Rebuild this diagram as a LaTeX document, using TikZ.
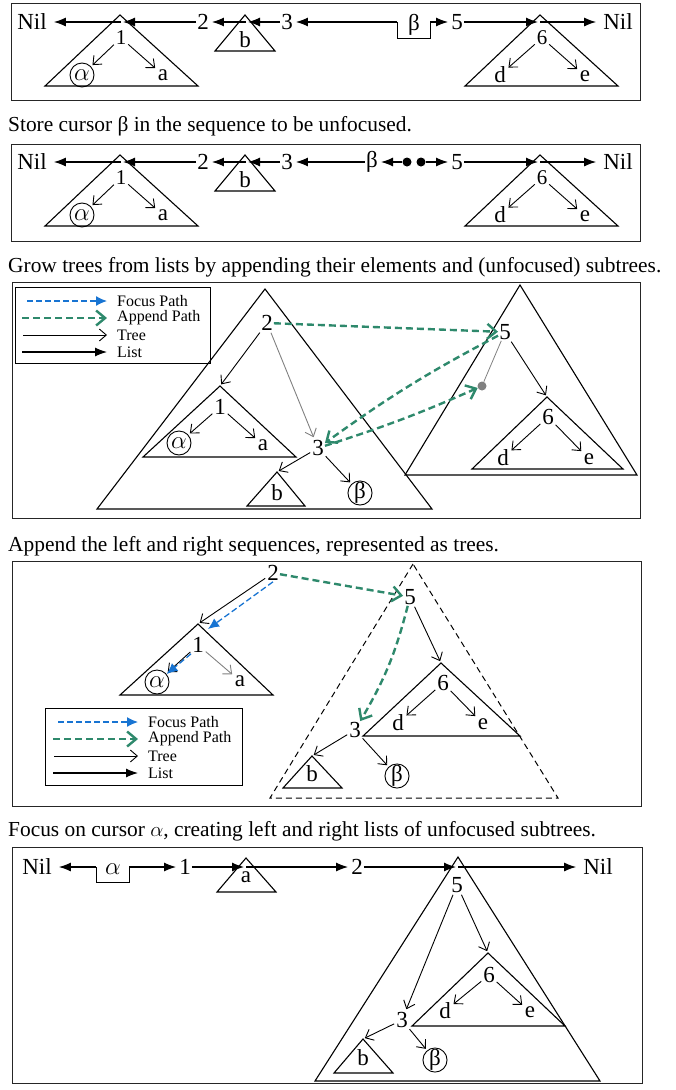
\documentclass[tikz,border=0pt]{standalone}
\usepackage{fontspec}
\setmainfont{Liberation Serif}
\usetikzlibrary{positioning,arrows.meta}
\definecolor{focusblue}{RGB}{24,116,210}
\definecolor{appendgreen}{RGB}{46,137,108}

\begin{document}
\begin{tikzpicture}[
			x=1pt, y=-1pt,
			every node/.style={
				inner sep=1pt,
				font=\fontsize{23}{23}\selectfont
			},
			small/.style={font=\fontsize{21}{21}\selectfont},
			nil/.style={inner sep=5pt},
			cnode/.style={draw, circle, inner sep=0pt, minimum size=24pt, line width=0.9pt},
			dot/.style={circle, fill, inner sep=0pt, minimum size=9pt},
			gdot/.style={circle, fill=gray, inner sep=0pt, minimum size=9pt},
			panel/.style={draw=black!85, line width=0.9pt},
			tri/.style={line width=1.1pt},
			list/.style={line width=1.1pt, -{Latex[length=12pt,width=9pt]}, shorten >=2pt},
			tree/.style={line width=0.9pt, -{Straight Barb[length=7pt,width=12pt]}, shorten >=2pt, shorten <=1pt},
			focus/.style={focusblue, line width=1.3pt, dash pattern=on 6pt off 3pt, -{Latex[length=11pt,width=10pt]}},
			append/.style={appendgreen, line width=2.4pt, dash pattern=on 7pt off 4pt, -{Straight Barb[length=9pt,width=15pt]}},
			legend/.style={anchor=west, inner xsep=10pt, inner ysep=1pt, font=\fontsize{16}{16}\selectfont},
			caption/.style={anchor=base west, inner sep=0pt, font=\fontsize{21.4}{22}\selectfont}
			]
			
			\useasboundingbox (0,0) rectangle (675,1090);
			
			%%%%%%%%%%%%%%%%%%%%%%%%%%%%%%%%%%%%%%%%%%%%%%%%%%%%%%%%%%%%
			% Panel 1: cursor beta in the list
			%%%%%%%%%%%%%%%%%%%%%%%%%%%%%%%%%%%%%%%%%%%%%%%%%%%%%%%%%%%%
			
			\draw[panel] (11,3) rectangle (640,100);
			
			\node (nilA) [nil] at (32,22) {Nil};
			
			\coordinate (hA1) at (121,22);
			\draw[tri] (120,15) -- (45,86) -- (198,86) -- cycle;
			\node (oneA) [small] at (121,38) {1};
			\node (alA) [cnode] at (82,75) {$\alpha$};
			\node (aA) at (163,75) {a};
			
			\node (twoA) at (203,22) {2};
			
			\coordinate (hA2) at (246,22);
			\draw[tri] (245,15) -- (215,51) -- (275,51) -- cycle;
			\node (bA) at (245,40) {b};
			
			\node (threeA) at (287,22) {3};
			
			\coordinate (cuA1) at (397,22);
			\coordinate (cuA2) at (430,22);
			\node (btA) at (414,25) {β};
			
			\node (fiveA) at (457,22) {5};
			
			\coordinate (hA6) at (540,22);
			\draw[tri] (540,15) -- (465,86) -- (618,86) -- cycle;
			\node (sixA) [small] at (542,38) {6};
			\node (dA) at (500,75) {d};
			\node (eA) at (585,76) {e};
			
			\node (nilB) [nil] at (618,22) {Nil};
			
			% List
			
			\draw[list] (hA1) -- (nilA);
			\draw[list] (twoA) -- (hA1);
			\draw[list] (hA2) -- (twoA);
			\draw[list] (threeA) -- (hA2);
			\draw[list] (cuA1) -- (threeA);
			\draw[line width=1pt] (cuA1) -- ++(0,16) -| (cuA2);
			\draw[list] (cuA2) -- (fiveA);
			\draw[list] (fiveA) -- (hA6);
			\draw[list] (hA6) -- (nilB);
			
			% Trees
			
			\draw[tree] (oneA) -- (alA);
			\draw[tree] (oneA) -- (aA);
			\draw[tree] (sixA) -- (dA);
			\draw[tree] (sixA) -- (eA);
			
			\node (capA) [caption] at (8,131) {Store cursor β in the sequence to be unfocused.};
			
			%%%%%%%%%%%%%%%%%%%%%%%%%%%%%%%%%%%%%%%%%%%%%%%%%%%%%%%%%%%%
			% Panel 2: cursor stored
			%%%%%%%%%%%%%%%%%%%%%%%%%%%%%%%%%%%%%%%%%%%%%%%%%%%%%%%%%%%%
			
			\draw[panel] (11,144) rectangle (640,241);
			
			\node (nilC) [nil] at (32,162) {Nil};
			
			\coordinate (hB1) at (121,162);
			\draw[tri] (120,155) -- (45,226) -- (198,226) -- cycle;
			\node (oneB) [small] at (121,178) {1};
			\node (alB) [cnode] at (82,215) {$\alpha$};
			\node (aB) at (163,215) {a};
			
			\node (twoB) at (203,162) {2};
			
			\coordinate (hB2) at (246,162);
			\draw[tri] (245,155) -- (215,191) -- (275,191) -- cycle;
			\node (bB) at (245,180) {b};
			
			\node (threeB) at (287,162) {3};
			
			\node (btB) at (372,162) {β};
			\node (dtB1) [dot] at (407,162) {};
			\node (dtB2) [dot] at (421,162) {};
			
			\node (fiveB) at (457,162) {5};
			
			\coordinate (hB6) at (540,162);
			\draw[tri] (540,155) -- (465,226) -- (618,226) -- cycle;
			\node (sixB) [small] at (542,178) {6};
			\node (dB) at (500,215) {d};
			\node (eB) at (585,216) {e};
			
			\node (nilD) [nil] at (618,162) {Nil};
			
			% List
			
			\draw[list] (hB1) -- (nilC);
			\draw[list] (twoB) -- (hB1);
			\draw[list] (hB2) -- (twoB);
			\draw[list] (threeB) -- (hB2);
			\draw[list] (btB) -- (threeB);
			\draw[list] (dtB1) -- (btB);
			\draw[list] (dtB2) -- (fiveB);
			\draw[list] (fiveB) -- (hB6);
			\draw[list] (hB6) -- (nilD);
			
			% Trees
			
			\draw[tree] (oneB) -- (alB);
			\draw[tree] (oneB) -- (aB);
			\draw[tree] (sixB) -- (dB);
			\draw[tree] (sixB) -- (eB);
			
			\node (capB) [caption] at (8,272) {Grow trees from lists by appending their elements and (unfocused) subtrees.};
			
			%%%%%%%%%%%%%%%%%%%%%%%%%%%%%%%%%%%%%%%%%%%%%%%%%%%%%%%%%%%%
			% Panel 3: lists grown into trees
			%%%%%%%%%%%%%%%%%%%%%%%%%%%%%%%%%%%%%%%%%%%%%%%%%%%%%%%%%%%%
			
			\draw[panel] (12,282) rectangle (640,518);
			
			% Legend
			
			\draw[line width=1pt] (15,287) rectangle (210,363);
			\node (lgC1) [legend] at (107,301) {Focus Path};
			\node (lgC2) [legend] at (107,318) {Append Path};
			\node (lgC3) [legend] at (107,335) {Tree};
			\node (lgC4) [legend] at (107,352) {List};
			\coordinate (lsC1) at (27,301);
			\coordinate (lsC2) at (22,318);
			\coordinate (lsC3) at (22,335);
			\coordinate (lsC4) at (22,352);
			\draw[focus] (lsC1) -- (lgC1);
			\draw[append] (lsC2) -- (lgC2);
			\draw[tree, shorten >=0pt] (lsC3) -- (lgC3);
			\draw[list, shorten >=0pt] (lsC4) -- (lgC4);
			
			% Trees
			
			\draw[tri] (265,289) -- (97,509) -- (432,509) -- cycle;
			\draw[tri] (520,285) -- (405,475) -- (637,475) -- cycle;
			
			\node (twoC) at (267,323) {2};
			\node (fiveC) at (505,332) {5};
			\node (gdC) [gdot] at (482,386) {};
			
			\coordinate (tC1) at (220,386);
			\draw[tri] (tC1) -- (143,457) -- (296,457) -- cycle;
			\node (oneC) at (220,407) {1};
			\node (alC) [cnode] at (179,443) {$\alpha$};
			\node (aC) at (263,445) {a};
			
			\node (threeC) at (318,448) {3};
			
			\coordinate (tC2) at (277,472);
			\draw[tri] (tC2) -- (247,506) -- (305,506) -- cycle;
			\node (bC) at (277,493) {b};
			\node (btC) [cnode] at (360,493) {β};
			
			\coordinate (tC6) at (547,397);
			\draw[tri] (tC6) -- (472,469) -- (623,469) -- cycle;
			\node (sixC) at (548,417) {6};
			\node (dC) at (503,458) {d};
			\node (eC) at (589,459) {e};
			
			\draw[tree] (twoC) -- (tC1);
			\draw[tree, gray] (twoC) -- (threeC);
			\draw[tree] (oneC) -- (alC);
			\draw[tree] (oneC) -- (aC);
			\draw[tree] (threeC) -- (tC2);
			\draw[tree] (threeC) -- (btC);
			\draw[tree] (fiveC) -- (tC6);
			\draw[tree] (sixC) -- (dC);
			\draw[tree] (sixC) -- (eC);
			\draw[gray, line width=0.8pt] (fiveC) -- (gdC);
			
			% Append
			
			\draw[append] (twoC) -- (fiveC);
			\draw[append] (fiveC) to[bend right=4] (threeC);
			\draw[append] (threeC) to[bend right=3] (gdC);
			
			\node (capC) [caption] at (8,551) {Append the left and right sequences, represented as trees.};
			
			%%%%%%%%%%%%%%%%%%%%%%%%%%%%%%%%%%%%%%%%%%%%%%%%%%%%%%%%%%%%
			% Panel 4: appended sequences
			%%%%%%%%%%%%%%%%%%%%%%%%%%%%%%%%%%%%%%%%%%%%%%%%%%%%%%%%%%%%
			
			\draw[panel] (12,561) rectangle (641,806);
			
			\node (twoD) at (273,573) {2};
			\node (fiveD) at (410,597) {5};
			
			\coordinate (tD1) at (198,624);
			\coordinate (fD1) at (208,629);
			\draw[tri] (tD1) -- (120,695) -- (273,695) -- cycle;
			\node (oneD) at (198,645) {1};
			\node (alD) [cnode] at (157,682) {$\alpha$};
			\node (aD) at (240,681) {a};
			
			\draw[line width=1pt, dash pattern=on 6pt off 4pt] (413,564) -- (270,798) -- (558,798) -- cycle;
			
			\coordinate (tD6) at (441,663);
			\draw[tri] (tD6) -- (363,736) -- (520,736) -- cycle;
			\node (sixD) at (443,683) {6};
			\node (dD) at (398,723) {d};
			\node (eD) at (483,724) {e};
			
			\node (threeD) at (355,730) {3};
			
			\coordinate (tD2) at (312,756);
			\draw[tri] (tD2) -- (283,788) -- (342,788) -- cycle;
			\node (bD) at (312,774) {b};
			\node (btD) [cnode] at (397,776) {β};
			
			% Legend
			
			\draw[line width=1pt] (45,708) rectangle (242,785);
			\node (lgD1) [legend] at (138,722) {Focus Path};
			\node (lgD2) [legend] at (138,739) {Append Path};
			\node (lgD3) [legend] at (138,756) {Tree};
			\node (lgD4) [legend] at (138,773) {List};
			\coordinate (lsD1) at (58,722);
			\coordinate (lsD2) at (53,739);
			\coordinate (lsD3) at (53,756);
			\coordinate (lsD4) at (53,773);
			\draw[focus] (lsD1) -- (lgD1);
			\draw[append] (lsD2) -- (lgD2);
			\draw[tree, shorten >=0pt] (lsD3) -- (lgD3);
			\draw[list, shorten >=0pt] (lsD4) -- (lgD4);
			
			% Connections
			
			\draw[tree] (twoD) -- (tD1);
			\draw[focus] (twoD.south) -- (fD1);
			\draw[tree] (oneD) -- (alD);
			\draw[focus] (oneD.south west) -- (alD);
			\draw[tree, gray] (oneD) -- (aD);
			\draw[tree] (fiveD) -- (tD6);
			\draw[tree] (sixD) -- (dD);
			\draw[tree] (sixD) -- (eD);
			\draw[tree] (threeD) -- (tD2);
			\draw[tree] (threeD) -- (btD);
			\draw[append] (twoD) -- (fiveD);
			\draw[append] (fiveD) to[bend left=8] (threeD);
			
			\node (capD) [caption] at (8,836) {Focus on cursor $\alpha$, creating left and right lists of unfocused subtrees.};
			
			%%%%%%%%%%%%%%%%%%%%%%%%%%%%%%%%%%%%%%%%%%%%%%%%%%%%%%%%%%%%
			% Panel 5: focused on alpha
			%%%%%%%%%%%%%%%%%%%%%%%%%%%%%%%%%%%%%%%%%%%%%%%%%%%%%%%%%%%%
			
			\draw[panel] (12,847) rectangle (642,1083);
			
			\node (nilE) [nil] at (37,867) {Nil};
			
			\coordinate (cuE1) at (96,867);
			\coordinate (cuE2) at (129,867);
			\node (alE) at (113,869) {$\alpha$};
			
			\node (oneE) at (185,867) {1};
			
			\coordinate (hE1) at (246,867);
			\draw[tri] (246,858) -- (217,892) -- (276,892) -- cycle;
			\node (aE) at (246,877) {a};
			
			\node (twoE) at (357,867) {2};
			
			\coordinate (hE2) at (458,867);
			\draw[tri] (458,857) -- (315,1081) -- (600,1081) -- cycle;
			
			\node (nilF) [nil] at (598,867) {Nil};
			
			\node (fiveE) at (457,885) {5};
			
			\coordinate (tE6) at (488,953);
			\draw[tri] (tE6) -- (412,1026) -- (565,1026) -- cycle;
			\node (sixE) at (489,975) {6};
			\node (dE) at (445,1011) {d};
			\node (eE) at (530,1012) {e};
			
			\node (threeE) at (402,1020) {3};
			
			\coordinate (tE2) at (363,1039);
			\draw[tri] (tE2) -- (334,1073) -- (393,1073) -- cycle;
			\node (bE) at (363,1058) {b};
			\node (btE) [cnode] at (435,1060) {β};
			
			% List
			
			\draw[line width=1pt] (cuE1) -- ++(0,15) -| (cuE2);
			\draw[list] (cuE1) -- (nilE);
			\draw[list] (cuE2) -- (oneE);
			\draw[list] (oneE) -- (hE1);
			\draw[list] (hE1) -- (twoE);
			\draw[list] (twoE) -- (hE2);
			\draw[list] (hE2) -- (nilF);
			
			% Trees
			
			\draw[tree] (fiveE) -- (threeE);
			\draw[tree] (fiveE) -- (tE6);
			\draw[tree] (sixE) -- (dE);
			\draw[tree] (sixE) -- (eE);
			\draw[tree] (threeE) -- (tE2);
			\draw[tree] (threeE) -- (btE);
			
			%%%%%%%%%%%%%%%%%%%%%%%%%%%%%%%%%%%%%%%%%%%%%%%%%%%%%%%%%%%%
			
		\end{tikzpicture}
\end{document}
